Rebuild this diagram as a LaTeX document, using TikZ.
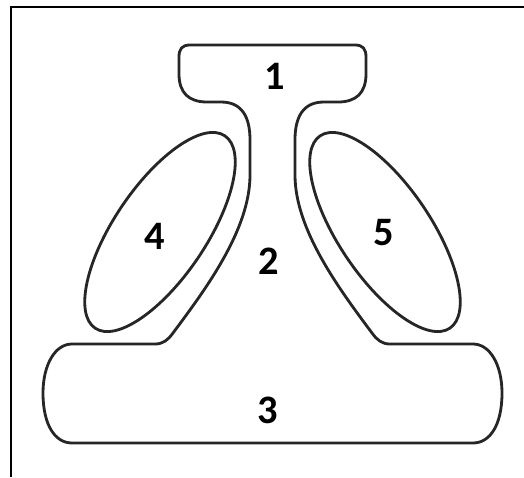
\documentclass[tikz,border=0pt]{standalone}
\usepackage{fontspec}
\setsansfont{Carlito}
\usetikzlibrary{positioning}

\begin{document}
\begin{tikzpicture}[
    x=0.02cm, y=-0.02cm,
    every node/.style={font=\sffamily\bfseries\fontsize{23}{25}\selectfont, inner sep=0pt},
    outline/.style={draw=black!85, line width=1.6pt, line join=round},
    framerule/.style={draw=black, line width=1.6pt}
]
    \useasboundingbox (0,0) rectangle (524,477);

    % Frame
    \draw[framerule] (11,477) -- (11,7) -- (524,7);

    % Outline of parts 1, 2 and 3
    \draw[outline] (190,45) -- (355,45)
        .. controls (363,45) and (366,49) .. (366,57) -- (366,74)
        .. controls (366,93) and (356,102) .. (338,102) -- (324,102)
        .. controls (303,102) and (295,117) .. (295,140) -- (295,175)
        .. controls (295,230) and (340,290) .. (372,333)
        .. controls (377,340) and (382,344) .. (390,344) -- (473,344)
        .. controls (490,344) and (502,365) .. (502,393)
        .. controls (502,425) and (490,443) .. (473,443) -- (72,443)
        .. controls (55,443) and (43,425) .. (43,393)
        .. controls (43,365) and (55,344) .. (72,344) -- (155,344)
        .. controls (163,344) and (168,340) .. (173,333)
        .. controls (205,290) and (250,230) .. (250,175) -- (250,140)
        .. controls (250,117) and (242,102) .. (221,102) -- (207,102)
        .. controls (189,102) and (179,93) .. (179,74) -- (179,57)
        .. controls (179,49) and (182,45) .. (190,45) -- cycle;

    % Parts 4 and 5
    \coordinate (c4) at (160,232);
    \coordinate (c5) at (385,232);
    \draw[outline, rotate around={56:(c4)}] (c4) ellipse [x radius=116, y radius=46];
    \draw[outline, rotate around={-56:(c5)}] (c5) ellipse [x radius=116, y radius=46];

    % Labels
    \node (lab1) at (275,76) {1};
    \node (lab2) at (269,261) {2};
    \node (lab3) at (268,410) {3};
    \node (lab4) at (155,236) {4};
    \node (lab5) at (384,233) {5};

\end{tikzpicture}
\end{document}
